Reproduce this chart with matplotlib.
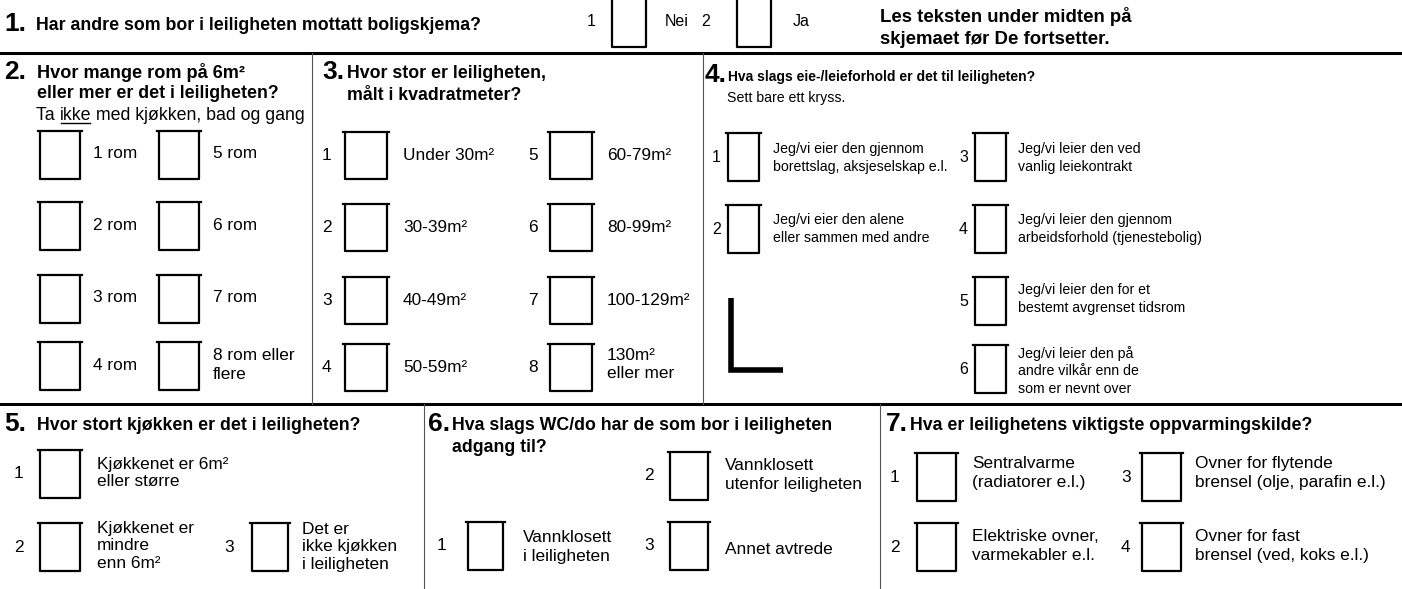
import matplotlib
matplotlib.use("Agg")
import matplotlib.pyplot as plt

plt.rcParams['font.family'] = ['Liberation Sans', 'DejaVu Sans']

W, H = 1402, 589

# ---- form texts ----
q1_title = "Har andre som bor i leiligheten mottatt boligskjema?"
q1_options = ["Nei", "Ja"]
note_lines = ["Les teksten under midten på", "skjemaet før De fortsetter."]

q2_title = "Hvor mange rom på 6m²\neller mer er det i leiligheten?"
q2_hint = ["Ta ", "ikke", " med kjøkken, bad og gang"]
q2_options = ["1 rom", "2 rom", "3 rom", "4 rom",
              "5 rom", "6 rom", "7 rom", "8 rom eller\nflere"]

q3_title = "Hvor stor er leiligheten,\nmålt i kvadratmeter?"
q3_options = ["Under 30m²", "30-39m²", "40-49m²", "50-59m²",
              "60-79m²", "80-99m²", "100-129m²", "130m²\neller mer"]

q4_title = "Hva slags eie-/leieforhold er det til leiligheten?"
q4_hint = "Sett bare ett kryss."
q4_options = ["Jeg/vi eier den gjennom\nborettslag, aksjeselskap e.l.",
              "Jeg/vi eier den alene\neller sammen med andre",
              "Jeg/vi leier den ved\nvanlig leiekontrakt",
              "Jeg/vi leier den gjennom\narbeidsforhold (tjenestebolig)",
              "Jeg/vi leier den for et\nbestemt avgrenset tidsrom",
              "Jeg/vi leier den på\nandre vilkår enn de\nsom er nevnt over"]

q5_title = "Hvor stort kjøkken er det i leiligheten?"
q5_options = ["Kjøkkenet er 6m²\neller større",
              "Kjøkkenet er\nmindre\nenn 6m²",
              "Det er\nikke kjøkken\ni leiligheten"]

q6_title = "Hva slags WC/do har de som bor i leiligheten\nadgang til?"
q6_options = ["Vannklosett\ni leiligheten",
              "Vannklosett\nutenfor leiligheten",
              "Annet avtrede"]

q7_title = "Hva er leilighetens viktigste oppvarmingskilde?"
q7_options = ["Sentralvarme\n(radiatorer e.l.)",
              "Elektriske ovner,\nvarmekabler e.l.",
              "Ovner for flytende\nbrensel (olje, parafin e.l.)",
              "Ovner for fast\nbrensel (ved, koks e.l.)"]

fig = plt.figure(figsize=(W / 100, H / 100), dpi=100)
ax = fig.add_axes([0, 0, 1, 1])
ax.set_xlim(0, W)
ax.set_ylim(H, 0)
ax.axis('off')

QSIZE = 12.8     # bold question text
NSIZE = 19       # question numerals
OSIZE = 12.4     # option text
Q4SIZE = 10.2    # option text in question 4 (narrower set in the original)
LS = 1.3


def box(x, top, w=40, h=48, open_top=False):
    ax.plot([x, x, x + w, x + w], [top, top + h, top + h, top],
            color='black', lw=1.6, solid_capstyle='butt')
    if not open_top:
        ax.plot([x - 2, x + w + 2], [top, top], color='black', lw=1.6)


def txt(x, y, s, size=OSIZE, bold=False, ls=LS, **kw):
    return ax.text(x, y, s, fontsize=size,
                   fontweight='bold' if bold else 'normal',
                   va='center', ha='left', linespacing=ls, **kw)


def option(num_x, box_x, top, label, label_x, num=None, w=40, h=48,
           size=OSIZE, ls=LS, dy=0, num_size=None):
    box(box_x, top, w, h)
    cy = top + h / 2
    if num is not None:
        txt(num_x, cy, str(num), size=num_size or size)
    txt(label_x, cy + dy, label, size=size, ls=ls)


# ---- frame lines ----
ax.plot([0, W], [53, 53], color='black', lw=2.2)
ax.plot([0, W], [404, 404], color='black', lw=2.2)
ax.plot([312, 312], [53, 404], color='#555555', lw=0.8)
ax.plot([703, 703], [53, 404], color='#555555', lw=0.8)
ax.plot([424, 424], [404, H], color='#555555', lw=0.8)
ax.plot([880, 880], [404, H], color='#555555', lw=0.8)

# ---- question 1 ----
txt(4, 24, "1.", size=NSIZE, bold=True)
txt(36, 26, q1_title, size=QSIZE, bold=True)
q1_num_x = [587, 701]
q1_box_x = [612, 737]
q1_lab_x = [665, 793]
for i, lab in enumerate(q1_options):
    txt(q1_num_x[i], 22, str(i + 1), size=11.5)
    box(q1_box_x[i], -2, w=34, h=49, open_top=True)
    txt(q1_lab_x[i], 22, lab, size=11.5)
txt(880, 17, note_lines[0], size=13.4, bold=True)
txt(880, 40, note_lines[1], size=13.4, bold=True)

# ---- question 2 ----
txt(4, 72, "2.", size=NSIZE, bold=True)
txt(37, 72, q2_title.split("\n")[0], size=13.1, bold=True)
txt(37, 94, q2_title.split("\n")[1], size=12.8, bold=True)
fig.canvas.draw()
rend = fig.canvas.get_renderer()
inv = ax.transData.inverted()
xh = 36
for k, part in enumerate(q2_hint):
    t = ax.text(xh, 115, part, fontsize=12.8, va='center', ha='left')
    bb = t.get_window_extent(renderer=rend)
    (x0, _), (x1, _) = inv.transform([[bb.x0, bb.y0], [bb.x1, bb.y1]])
    if k == 1:
        ax.plot([x0 + 1, x1 - 1], [123, 123], color='black', lw=1.0)
    xh = x1
q2_col_box = [40, 159]
q2_col_lab = [93, 213]
q2_row_top = [131, 202, 275, 342]
for i, lab in enumerate(q2_options):
    c, r = divmod(i, 4)
    option(None, q2_col_box[c], q2_row_top[r], lab, q2_col_lab[c],
           w=40, h=48, dy=-1)

# ---- question 3 ----
txt(322, 72, "3.", size=NSIZE, bold=True)
txt(347, 73, q3_title.split("\n")[0], size=QSIZE, bold=True)
txt(347, 95, q3_title.split("\n")[1], size=QSIZE, bold=True)
q3_col_num = [322, 528]
q3_col_box = [345, 550]
q3_col_lab = [403, 607]
q3_row_top = [132, 204, 277, 344]
for i, lab in enumerate(q3_options):
    c, r = divmod(i, 4)
    option(q3_col_num[c], q3_col_box[c], q3_row_top[r], lab, q3_col_lab[c],
           num=i + 1, w=42, h=47, dy=-3 if "\n" in lab else 0)

# ---- question 4 ----
txt(705, 75, "4.", size=NSIZE, bold=True)
txt(728, 77, q4_title, size=10.0, bold=True)
txt(727, 98, q4_hint, size=Q4SIZE)
q4_num_x = [712, 712, 959, 959, 959, 959]
q4_box_x = [728, 728, 975, 975, 975, 975]
q4_lab_x = [773, 773, 1018, 1018, 1018, 1018]
q4_top = [133, 205, 133, 205, 277, 345]
q4_dy = [1, 0, 1, 0, -2, 2]
for i, lab in enumerate(q4_options):
    option(q4_num_x[i], q4_box_x[i], q4_top[i], lab, q4_lab_x[i],
           num=i + 1, w=31, h=48, size=Q4SIZE, ls=1.33, dy=q4_dy[i],
           num_size=11.5)
# corner mark
ax.plot([731, 731, 783], [298, 370, 370], color='black', lw=4,
        solid_joinstyle='miter', solid_capstyle='butt')

# ---- question 5 ----
txt(4, 424, "5.", size=NSIZE, bold=True)
txt(37, 426, q5_title, size=QSIZE, bold=True)
q5_num_x = [14, 14, 224]
q5_box_x = [40, 40, 252]
q5_lab_x = [97, 97, 302]
q5_top = [450, 523, 523]
q5_w = [40, 40, 36]
q5_dy = [-1, -1, 0]
for i, lab in enumerate(q5_options):
    option(q5_num_x[i], q5_box_x[i], q5_top[i], lab, q5_lab_x[i],
           num=i + 1, w=q5_w[i], h=48, ls=1.22, dy=q5_dy[i])

# ---- question 6 ----
txt(428, 424, "6.", size=NSIZE, bold=True)
txt(452, 426, q6_title.split("\n")[0], size=QSIZE, bold=True)
txt(452, 448, q6_title.split("\n")[1], size=QSIZE, bold=True)
q6_num_x = [437, 644, 644]
q6_box_x = [468, 670, 670]
q6_lab_x = [523, 725, 725]
q6_top = [522, 452, 522]
q6_w = [35, 38, 38]
q6_dy = [1, -1, 4]
for i, lab in enumerate(q6_options):
    option(q6_num_x[i], q6_box_x[i], q6_top[i], lab, q6_lab_x[i],
           num=i + 1, w=q6_w[i], h=48, dy=q6_dy[i])

# ---- question 7 ----
txt(886, 424, "7.", size=NSIZE, bold=True)
txt(910, 426, q7_title, size=QSIZE, bold=True)
q7_col_num = [890, 1121]
q7_col_box = [917, 1142]
q7_col_lab = [972, 1195]
q7_row_top = [453, 523]
q7_row_dy = [-4, -1]
for i, lab in enumerate(q7_options):
    c, r = divmod(i, 2)
    option(q7_col_num[c], q7_col_box[c], q7_row_top[r], lab, q7_col_lab[c],
           num=i + 1, w=39, h=48, dy=q7_row_dy[r])

fig.savefig("out.png", dpi=100, facecolor='white')
